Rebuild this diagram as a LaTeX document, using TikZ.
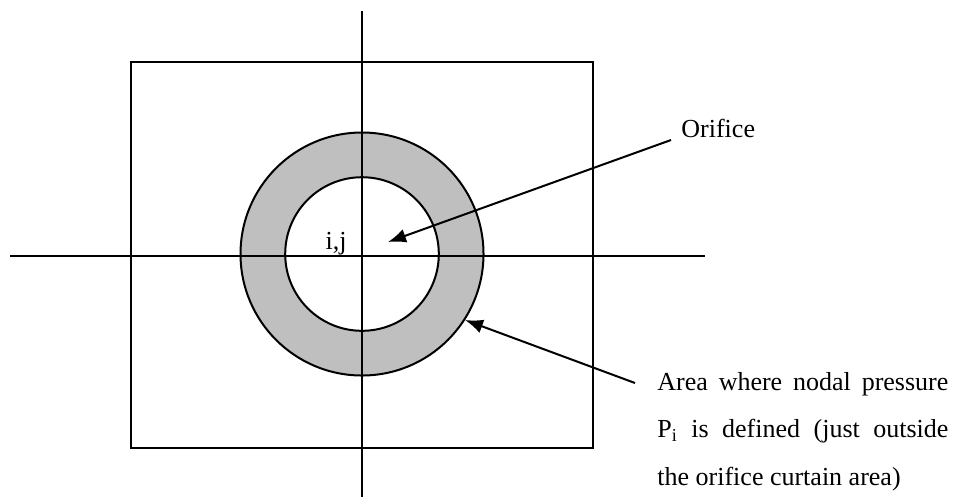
\documentclass[tikz,border=0pt]{standalone}
\usepackage{fontspec}
\setmainfont{Liberation Serif}
\usetikzlibrary{arrows.meta}
\begin{document}
\begin{tikzpicture}[x=0.5pt,y=-0.5pt,
  axis/.style={line width=1pt},
  ring/.style={line width=1pt},
  pointer/.style={line width=1pt,-{Latex[length=9pt,width=7pt]}},
  lbl/.style={inner sep=0pt,font=\fontsize{13}{15}\selectfont},
  areatxt/.style={lbl,anchor=base west}]
\useasboundingbox (0,0) rectangle (956,500);
% square
\draw[line width=1pt] (131,62) rectangle (593,448);
% ring
\fill[black!25,even odd rule] (362,254) circle[radius=121.5] (362,254) circle[radius=76.8];
\draw[ring] (362,254) circle[radius=121.5];
\draw[ring] (362,254) circle[radius=76.8];
% axes
\coordinate (vt) at (362,11);
\coordinate (vb) at (362,497);
\coordinate (hl) at (10,256);
\coordinate (hr) at (705,256);
\draw[axis] (vt) -- (vb);
\draw[axis] (hl) -- (hr);
% labels
\node[lbl,anchor=base east] (ij) at (347,249) {i,j};
\node[lbl,anchor=base west] (orifice) at (681,137) {Orifice};
\node[areatxt] (area1) at (657,390) {\makebox[145.5pt][s]{Area where nodal pressure}};
\node[areatxt] (area2) at (657,437.5) {\makebox[145.5pt][s]{P\textsubscript{i} is defined (just outside}};
\node[areatxt] (area3) at (657,485) {the orifice curtain area)};
% arrows
\coordinate (os) at (671,140);
\coordinate (oe) at (388,242);
\coordinate (as) at (635,383);
\coordinate (ae) at (465,320);
\draw[pointer] (os) -- (oe);
\draw[pointer] (as) -- (ae);
\end{tikzpicture}
\end{document}
